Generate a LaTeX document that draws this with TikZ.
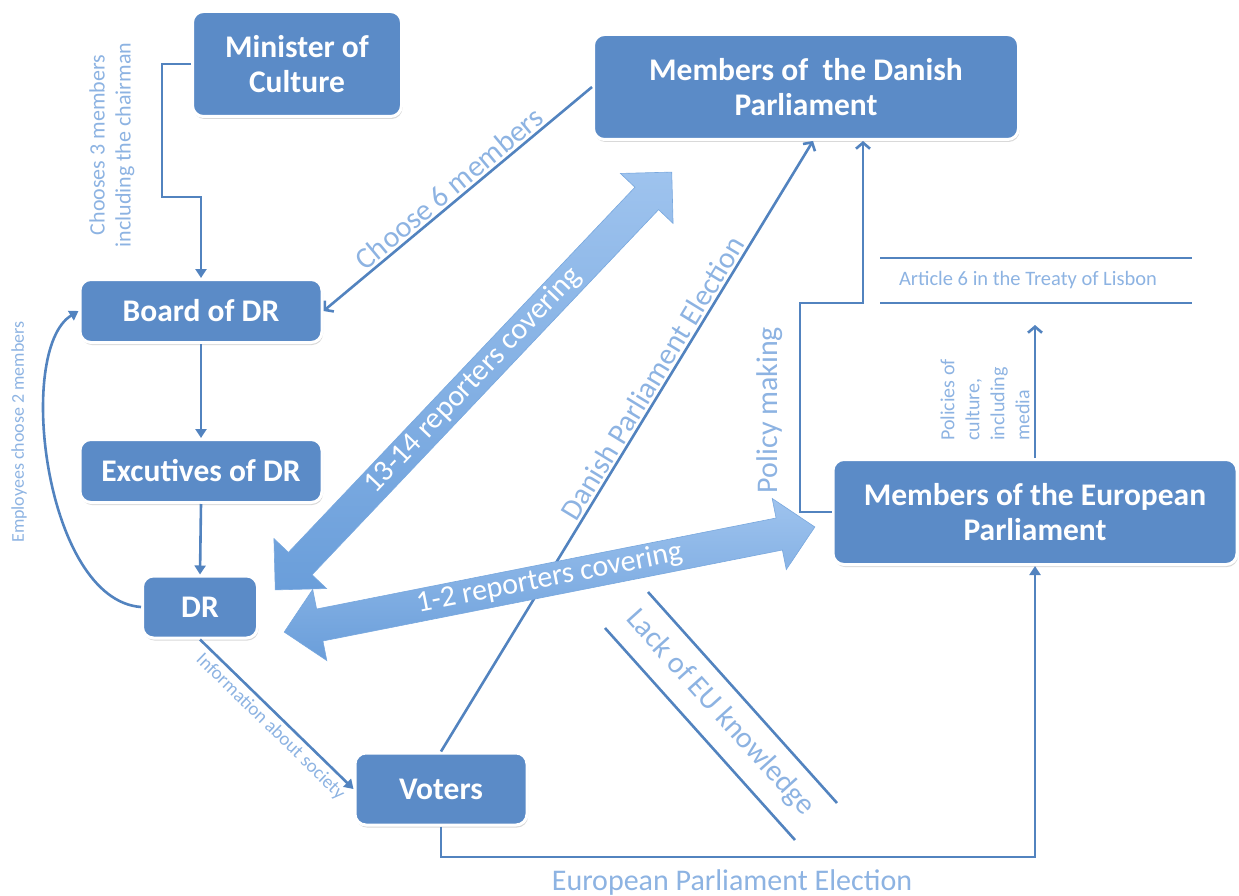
\documentclass[tikz,border=0pt]{standalone}
\usepackage{fontspec}
\setmainfont{Carlito}
\usetikzlibrary{arrows.meta,shapes.arrows,shadows,calc}
\definecolor{boxblue}{HTML}{5B8BC7}
\definecolor{lineblue}{HTML}{5283BF}
\definecolor{labblue}{HTML}{8DB3E2}
\definecolor{arrlight}{HTML}{9EC3EE}
\definecolor{arrdark}{HTML}{6A9EDA}
\begin{document}
\begin{tikzpicture}[x=1pt,y=-1pt,
  box/.style={draw=white, line width=3pt, fill=boxblue, rounded corners=11pt,
    text=white, font=\bfseries\fontsize{31.5}{35}\selectfont, align=center, inner sep=0pt,
    drop shadow={shadow xshift=1pt, shadow yshift=-2.5pt, opacity=.3}},
  conn/.style={draw=lineblue, line width=2.6pt},
  tri/.style={-{Triangle[length=9pt,width=11pt]}},
  barb/.style={-{Straight Barb[length=6pt,width=14pt]}},
  barbstart/.style={{Straight Barb[length=6pt,width=14pt]}-},
  lab/.style={text=labblue, font=\fontsize{30}{34}\selectfont, inner sep=2pt},
  slab/.style={text=labblue, font=\fontsize{20}{25}\selectfont, inner sep=2pt},
  bigarrow/.style={double arrow, double arrow head extend=20pt, double arrow tip angle=90,
    top color=arrlight, bottom color=arrdark, draw=arrdark!90, line width=0.6pt,
    text=white, font=\fontsize{30}{34}\selectfont, text height=21pt, text depth=7pt,
    inner xsep=0pt, inner ysep=2pt}
]
\useasboundingbox (0,0) rectangle (1239,896);

% boxes
\node[box, minimum width=209pt, minimum height=105pt] (mc) at (297,64) {Minister of\\Culture};
\node[box, minimum width=425pt, minimum height=105pt] (dp) at (806,87) {Members of\ \ the Danish\\Parliament};
\node[box, minimum width=242pt, minimum height=63pt] (board) at (201,311) {Board of DR};
\node[box, minimum width=242pt, minimum height=63pt] (exe) at (201,471) {Excutives of DR};
\node[box, minimum width=115pt, minimum height=62pt] (dr) at (200,607) {DR};
\node[box, minimum width=172pt, minimum height=72pt] (voters) at (441,789) {Voters};
\node[box, minimum width=404pt, minimum height=105pt] (eu) at (1035,512) {Members of the European\\Parliament};

% coordinates
\coordinate (k1) at (162,197);
\coordinate (pm) at (800,303);
\coordinate (dpin1) at ([xshift=7pt]dp.south);
\coordinate (dpin2) at ([xshift=57pt]dp.south);
\coordinate (artin) at (1035,325);
\coordinate (epy) at (0,857);

% connectors
\draw[conn, tri] (mc.west) -| (k1) -| (board.north);
\draw[conn, tri] (board.south) -- (exe.north);
\draw[conn, tri] (exe.south) -- (dr.north);
\draw[conn, tri] (dr.west) .. controls (45,600) and (15,350) .. (board.west);
\draw[conn, barbstart] (board.east) -- node[lab, sloped, above] (l6) {Choose 6 members} (dp.west);
\draw[conn, barb] (voters.north) -- node[lab, sloped, above, pos=0.6] (ldp) {Danish Parliament Election} (dpin1);
\draw[conn, barb] (eu.west) -| (pm) -| (dpin2);
\draw[conn, barb] (eu.north) -- (artin);
\draw[conn, tri] (dr.south) -- node[text=labblue, font=\fontsize{19}{23}\selectfont, sloped, below, pos=0.52, inner sep=4pt] (linfo) {Information about society} (voters.west);
\draw[conn, tri] (voters.south) -- (voters.south |- epy) -| (eu.south);

% big double arrows
\node[bigarrow, rotate=46.5, minimum height=576pt] (a1) at (473.5,381) {13-14 reporters covering};
\node[bigarrow, rotate=11.2, minimum height=541pt] (a2) at (549.5,579.5) {1-2 reporters covering};

% article
\draw[conn] (880,258) -- (1192,258);
\draw[conn] (880,303) -- (1192,303);
\node[text=labblue, font=\fontsize{20.5}{24}\selectfont] (art) at (1028,280) {Article 6 in the Treaty of Lisbon};

% lack of EU knowledge
\draw[conn] (648,592) -- (837,803);
\draw[conn] (605,628) -- (795,840);
\node[lab, rotate=-48] (lack) at (720,713) {Lack of EU knowledge};

% other labels
\node[lab, rotate=90] (lpm) at (770,410) {Policy making};
\node[text=labblue, font=\fontsize{22}{26}\selectfont, inner sep=2pt, rotate=90, align=center] (lch) at (112,145) {Chooses 3 members\\including the chairman};
\node[text=labblue, font=\fontsize{18}{22}\selectfont, rotate=90] (lemp) at (19,432) {Employees choose 2 members};
\node[slab, rotate=90, align=left, anchor=west] (lpol) at (985,443) {Policies of\\culture,\\including\\media};
\node[lab] (lep) at (732,882) {European Parliament Election};
\end{tikzpicture}
\end{document}
